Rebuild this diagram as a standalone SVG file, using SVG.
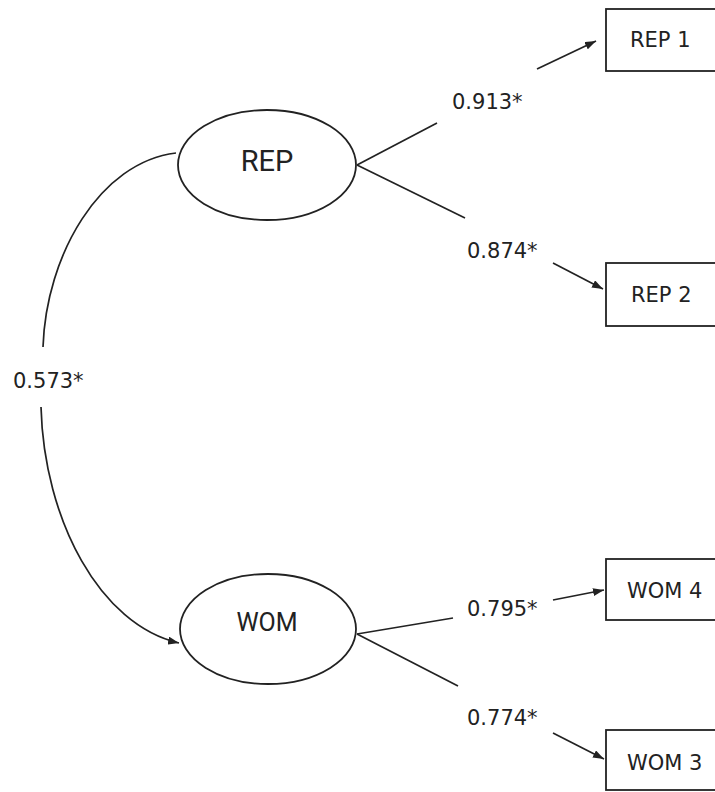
<svg xmlns="http://www.w3.org/2000/svg" width="715" height="792" viewBox="0 0 715 792">
  <style>
    .lat { fill: #fff; stroke: #222; stroke-width: 1.8; }
    .box { fill: #fff; stroke: #222; stroke-width: 1.8; }
    .edge { fill: none; stroke: #222; stroke-width: 1.7; }
    .lbl { font-family: "DejaVu Sans", Verdana, sans-serif; font-size: 21px; fill: #222; }
    .obs { font-family: "DejaVu Sans", Verdana, sans-serif; font-size: 21px; fill: #222; }
    .latt { font-family: Roboto, "Liberation Sans", Arial, sans-serif; fill: #222; text-anchor: middle; }
  </style>
  <defs>
    <marker id="arrow" markerUnits="userSpaceOnUse" markerWidth="12" markerHeight="8" refX="11" refY="4" orient="auto">
      <path d="M0,0 L11,4 L0,8 z" fill="#222"/>
    </marker>
  </defs>

  <!-- connectors -->
  <g id="connectors">
    <!-- REP loadings -->
    <line class="edge" x1="357" y1="165" x2="437" y2="123"/>
    <line class="edge" x1="537" y1="69" x2="596" y2="41" marker-end="url(#arrow)"/>
    <line class="edge" x1="357" y1="165" x2="465" y2="218"/>
    <line class="edge" x1="553" y1="263" x2="603" y2="289" marker-end="url(#arrow)"/>
    <!-- WOM loadings -->
    <line class="edge" x1="357" y1="634" x2="453" y2="618"/>
    <line class="edge" x1="553" y1="600" x2="604" y2="590" marker-end="url(#arrow)"/>
    <line class="edge" x1="357" y1="634" x2="458" y2="686"/>
    <line class="edge" x1="553" y1="733" x2="604" y2="759" marker-end="url(#arrow)"/>
    <!-- REP to WOM path, split around its label -->
    <path class="edge" d="M176,153 C100,162 46,255 43,347"/>
    <path class="edge" d="M41,407 C44,520 100,625 179,643" marker-end="url(#arrow)"/>
  </g>

  <g id="labels">
    <text class="lbl" x="452" y="109">0.913*</text>
    <text class="lbl" x="467" y="258">0.874*</text>
    <text class="lbl" x="467" y="616">0.795*</text>
    <text class="lbl" x="467" y="725">0.774*</text>
    <text class="lbl" x="13" y="388">0.573*</text>
  </g>

  <g id="REP">
    <ellipse class="lat" cx="267" cy="165" rx="89" ry="55"/>
    <text class="latt" x="267" y="171" font-size="29">REP</text>
  </g>
  <g id="WOM">
    <ellipse class="lat" cx="268" cy="629" rx="88" ry="55"/>
    <text class="latt" x="267" y="631" font-size="25">WOM</text>
  </g>

  <g id="REP1">
    <rect class="box" x="606" y="9" width="120" height="62"/>
    <text class="obs" x="630" y="47">REP 1</text>
  </g>
  <g id="REP2">
    <rect class="box" x="606" y="263" width="120" height="63"/>
    <text class="obs" x="631" y="302">REP 2</text>
  </g>
  <g id="WOM4">
    <rect class="box" x="606" y="559" width="120" height="61"/>
    <text class="obs" x="627" y="598">WOM 4</text>
  </g>
  <g id="WOM3">
    <rect class="box" x="606" y="730" width="120" height="60"/>
    <text class="obs" x="627" y="770">WOM 3</text>
  </g>
</svg>
